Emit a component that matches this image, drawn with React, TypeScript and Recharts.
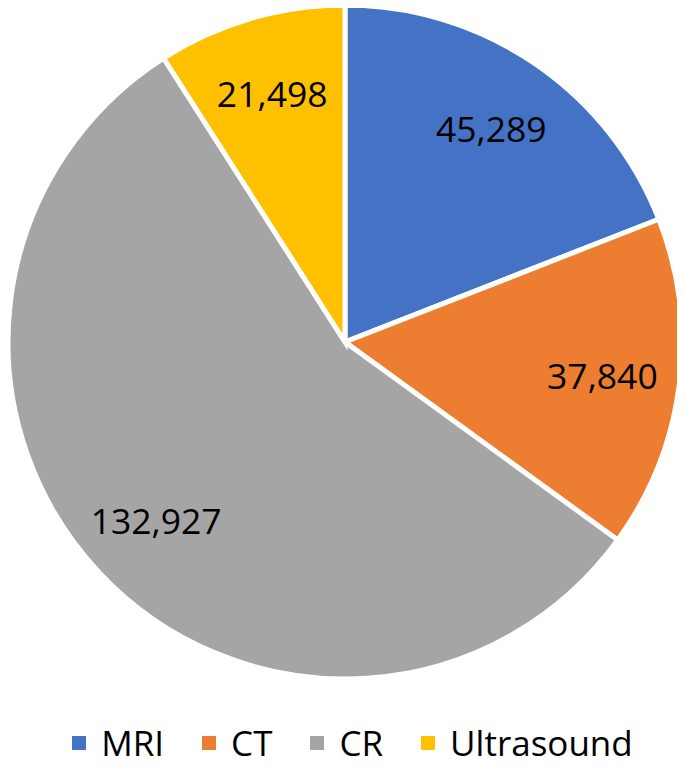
import { PieChart, Pie, Cell, Legend } from "recharts";

const categories = ["MRI", "CT", "CR", "Ultrasound"];
const counts = [45289, 37840, 132927, 21498];
const colors = ["#4472C4", "#ED7D31", "#A5A5A5", "#FFC000"];

const data = categories.map((name, i) => ({ name, value: counts[i] }));

const RADIAN = Math.PI / 180;
const FONT = "'Open Sans', 'Liberation Sans', sans-serif";

const renderLabel = ({ cx, cy, midAngle, outerRadius, value }: any) => {
    const r = outerRadius * 0.77;
    const x = cx + r * Math.cos(-midAngle * RADIAN);
    const y = cy + r * Math.sin(-midAngle * RADIAN);
    return (
        <text
            x={x}
            y={y}
            fill="#000"
            textAnchor="middle"
            dominantBaseline="central"
            style={{ fontFamily: FONT, fontSize: 35.5 }}
        >
            {value.toLocaleString("en-US")}
        </text>
    );
};

const LegendContent = () => (
    <div style={{ display: "flex", justifyContent: "center", alignItems: "center", fontFamily: FONT, fontSize: 35, color: "#000", marginLeft: 20 }}>
        {categories.map((name, i) => (
            <div key={name} style={{ display: "flex", alignItems: "center", margin: "0 19px" }}>
                <span style={{ width: 14, height: 14, background: colors[i], display: "inline-block", marginRight: 15 }} />
                <span>{name}</span>
            </div>
        ))}
    </div>
);

const App = () => {
    return (
        <PieChart width={669} height={754}>
            <Pie
                data={data}
                dataKey="value"
                nameKey="name"
                cx={332}
                cy={329}
                outerRadius={337}
                startAngle={90}
                endAngle={-270}
                stroke="#fff"
                strokeWidth={5}
                label={renderLabel}
                labelLine={false}
                isAnimationActive={false}
            >
                {data.map((d, i) => (
                    <Cell key={d.name} fill={colors[i]} />
                ))}
            </Pie>
            <Legend verticalAlign="bottom" height={44} wrapperStyle={{ bottom: -1 }} content={<LegendContent />} />
        </PieChart>
    );
};

export default App;
